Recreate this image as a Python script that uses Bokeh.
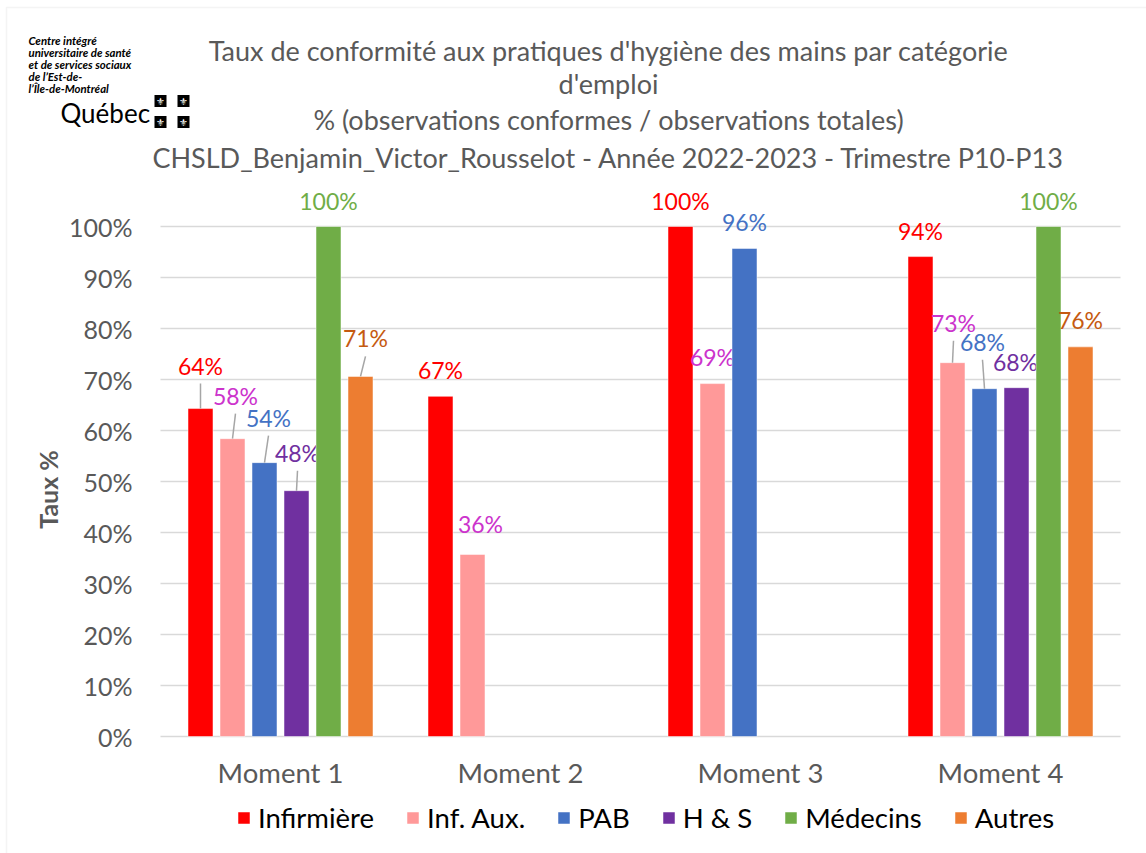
from bokeh.plotting import figure
from bokeh.models import (ColumnDataSource, Range1d, FixedTicker, PrintfTickFormatter,
                          Label, Legend, LegendItem, BoxAnnotation, Grid)
from bokeh.core.properties import value
from bokeh.embed import file_html
from bokeh.resources import INLINE
import math

# ---------------- data ----------------
categories = ["Moment 1", "Moment 2", "Moment 3", "Moment 4"]
series_names = ["Infirmière", "Inf. Aux.", "PAB", "H & S", "Médecins", "Autres"]
infirmiere = [64.3, 66.7, 100.0, 94.1]
inf_aux = [58.4, 35.7, 69.2, 73.3]
pab = [53.7, None, 95.7, 68.2]
h_s = [48.2, None, None, 68.4]
medecins = [100.0, None, None, 100.0]
autres = [70.6, None, None, 76.4]
y_ticks = [0, 10, 20, 30, 40, 50, 60, 70, 80, 90, 100]

title_lines = [
    "Taux de conformité aux pratiques d'hygiène des mains par catégorie",
    "d'emploi",
    "% (observations conformes / observations totales)",
    "CHSLD_Benjamin_Victor_Rousselot - Année 2022-2023 - Trimestre P10-P13",
]
logo_lines = [
    "Centre intégré",
    "universitaire de santé",
    "et de services sociaux",
    "de l\u2019Est-de-",
    "l\u2019Île-de-Montréal",
]
y_axis_title = "Taux %"

series_values = [infirmiere, inf_aux, pab, h_s, medecins, autres]

# ---------------- styles / layout ----------------
FONT = "Lato"
GRAY = "#595959"
bar_colors = ["#FF0000", "#FF9999", "#4472C4", "#7030A0", "#70AD47", "#ED7D31"]
label_colors = ["#FF0000", "#CC33CC", "#4472C4", "#7030A0", "#70AD47", "#C55A11"]
# manual nudges of data labels (dx right, dy up) in pixels, per series / moment
label_nudges = [
    [(0, 17), (0, 0), (0, 0), (0, 0)],
    [(3, 17), (8, 4), (0, 1), (1, 14)],
    [(4, 19), (0, 0), (0, 0), (-2, 21)],
    [(1, 12), (0, 0), (0, 0), (-1, 0)],
    [(0, 0), (0, 0), (0, 0), (0, 0)],
    [(5, 12), (0, 0), (0, 0), (0, 1)],
]

W, H = 1146, 853
PLOT_L, PLOT_R = 160, 1120      # pixel extent of the category axis
Y0_PX, Y100_PX = 736, 226       # pixel rows of 0 % and 100 %
XPX = (PLOT_R - PLOT_L) / len(categories)
YPX = (Y0_PX - Y100_PX) / 100.0
PITCH = 32 / XPX
BAR_W = 25 / XPX
LABEL_GAP = 26


def xd(px):
    return (px - PLOT_L) / XPX


def yd(py):
    return (Y0_PX - py) / YPX


p = figure(width=W, height=H, output_backend="svg", toolbar_location=None,
           x_range=Range1d(xd(0), xd(W)), y_range=Range1d(yd(H), yd(0)),
           min_border=0, title=None)
p.outline_line_color = None
p.background_fill_color = "white"
p.border_fill_color = "white"

# grid
p.xgrid.grid_line_color = None
p.ygrid.grid_line_color = "#D9D9D9"
p.ygrid.grid_line_width = 1.5
p.ygrid.bounds = (0, 100)
if "cross_bounds" in Grid.properties():
    p.ygrid.cross_bounds = (0, len(categories))
    manual_grid = False
else:
    manual_grid = True

# axes (drawn at fixed data locations inside the canvas)
yax = p.yaxis[0]
yax.fixed_location = 0
yax.bounds = (0, 100)
yax.ticker = FixedTicker(ticks=y_ticks)
yax.formatter = PrintfTickFormatter(format="%d%%")
yax.axis_line_color = None
yax.major_tick_line_color = None
yax.minor_tick_line_color = None
yax.major_tick_out = 0
yax.major_tick_in = 0
yax.major_label_standoff = 28
yax.major_label_text_font = FONT
yax.major_label_text_font_size = "25px"
yax.major_label_text_color = GRAY

xax = p.xaxis[0]
xax.fixed_location = 0
xax.bounds = (0, len(categories))
xax.ticker = FixedTicker(ticks=[i + 0.5 for i in range(len(categories))])
xax.major_label_overrides = {i + 0.5: c for i, c in enumerate(categories)}
xax.axis_line_color = None
xax.major_tick_line_color = None
xax.minor_tick_line_color = None
xax.major_tick_out = 0
xax.major_tick_in = 0
xax.major_label_standoff = 19
xax.major_label_text_font = FONT
xax.major_label_text_font_size = "27.5px"
xax.major_label_text_color = GRAY

if manual_grid:
    p.segment(x0=[0] * len(y_ticks), x1=[len(categories)] * len(y_ticks),
              y0=y_ticks, y1=y_ticks, line_color="#D9D9D9", line_width=1.5)

legend_items = []
for j, (name, vals) in enumerate(zip(series_names, series_values)):
    xs, ys, texts, xo, yo, lx0, ly0, lx1, ly1 = [], [], [], [], [], [], [], [], []
    for i, v in enumerate(vals):
        if v is None:
            continue
        x = i + 0.5 + (j - 2.5) * PITCH
        ndx, ndy = label_nudges[j][i]
        xs.append(x)
        ys.append(v)
        texts.append(f"{round(v)}%")
        xo.append(ndx)
        yo.append(-(LABEL_GAP + ndy))
        if ndy >= 10:
            lx0.append(x)
            ly0.append(v)
            lx1.append(x + ndx / XPX)
            ly1.append(v + (ndy + 8) / YPX)
    src = ColumnDataSource(dict(x=xs, top=ys, text=texts, xo=xo, yo=yo))
    r = p.vbar(x="x", top="top", width=BAR_W, bottom=0, source=src,
               fill_color=bar_colors[j], line_color="white", line_width=0.5)
    legend_items.append(LegendItem(label=name, renderers=[r]))
    if lx0:
        p.segment(x0=lx0, y0=ly0, x1=lx1, y1=ly1, line_color="#A6A6A6", line_width=1.5)
    p.text(x="x", y="top", text="text", x_offset="xo", y_offset="yo", source=src,
           text_color=label_colors[j], text_font=value(FONT), text_font_size="23px",
           text_align="center", text_baseline="middle")

legend = Legend(items=legend_items, orientation="horizontal", location=(236, 19),
                glyph_width=15, glyph_height=15, label_standoff=7, spacing=31,
                padding=0, margin=0, border_line_color=None, background_fill_alpha=0,
                label_text_font=FONT, label_text_font_size="27.5px",
                label_text_color="#000000")
p.add_layout(legend)

# title
title_centers = [50, 83, 119, 157]
for t, c in zip(title_lines, title_centers):
    p.add_layout(Label(x=xd(608), y=yd(c), text=t, text_align="center",
                       text_baseline="middle", text_font=FONT,
                       text_font_size="27px", text_color=GRAY))

# y axis title
p.add_layout(Label(x=xd(47), y=yd(489), text=y_axis_title, angle=math.pi / 2,
                   text_align="center", text_baseline="middle", text_font=FONT,
                   text_font_size="25px", text_font_style="bold", text_color=GRAY))

# logo
for k, t in enumerate(logo_lines):
    p.add_layout(Label(x=xd(28), y=yd(40 + k * 11.9), text=t, text_align="left",
                       text_baseline="middle", text_font=FONT,
                       text_font_size="11.4px", text_font_style="bold italic",
                       text_color="#000000"))
p.add_layout(Label(x=xd(60), y=yd(112), text="Québec", text_align="left",
                   text_baseline="middle", text_font=FONT,
                   text_font_size="26px", text_color="#000000"))
for cx, cy in [(160, 100.5), (183, 100.5), (160, 121.5), (183, 121.5)]:
    p.add_layout(BoxAnnotation(left=xd(cx - 6), right=xd(cx + 6),
                               top=yd(cy - 6), bottom=yd(cy + 6),
                               fill_color="black", fill_alpha=1, line_color=None))
    p.add_layout(Label(x=xd(cx), y=yd(cy), text="\u269c", text_align="center",
                       text_baseline="middle", text_font="DejaVu Sans",
                       text_font_size="10px", text_color="white"))

# chart border (left / top visible)
p.add_layout(BoxAnnotation(left=xd(6), top=yd(7), right=xd(W + 50), bottom=yd(H + 50),
                           fill_alpha=0, line_color="#D9D9D9", line_width=1.5))

open("out.html", "w").write(file_html(p, INLINE))
